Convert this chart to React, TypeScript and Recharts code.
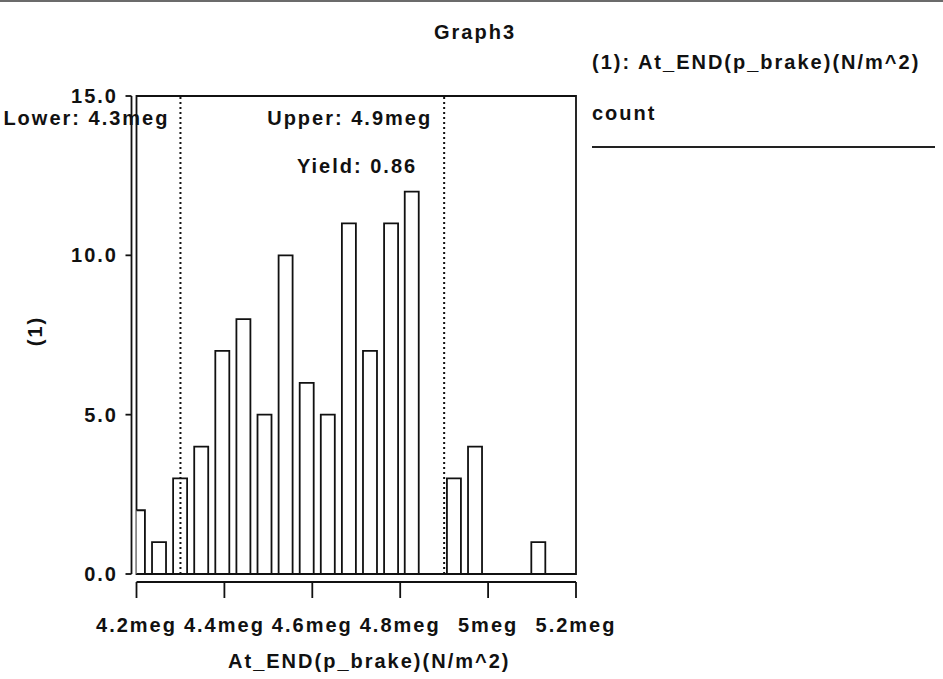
import React from 'react';
import { BarChart, Bar, XAxis, YAxis, ReferenceLine, ReferenceArea } from 'recharts';

// histogram bins of At_END(p_brake), in meg (N/m^2)
const binCenters = [
  4.204, 4.252, 4.3, 4.348, 4.396, 4.444, 4.492, 4.54, 4.588, 4.636,
  4.684, 4.732, 4.78, 4.827, 4.875, 4.923, 4.971, 5.019, 5.067, 5.115,
];
const counts = [2, 1, 3, 4, 7, 8, 5, 10, 6, 5, 11, 7, 11, 12, 0, 3, 4, 0, 0, 1];

const xTicks = [4.2, 4.4, 4.6, 4.8, 5.0, 5.2];
const xTickLabels = ['4.2meg', '4.4meg', '4.6meg', '4.8meg', '5meg', '5.2meg'];
const yTicks = [0, 5, 10, 15];

const lowerLimit = 4.3;
const upperLimit = 4.9;
const yieldValue = 0.86;

const data = binCenters.map((x, i) => ({ x, count: counts[i] }));

const INK = '#111';
const FONT = '"Liberation Sans", Arial, Helvetica, sans-serif';

const YTitle = (props: any) => {
  const vb = props.viewBox || {};
  const cx = vb.x + 18;
  const cy = vb.y + vb.height / 2 - 4;
  return (
    <text x={cx} y={cy} transform={`rotate(-90 ${cx} ${cy})`} textAnchor="middle" dominantBaseline="central" fill={INK}>
      (1)
    </text>
  );
};

const XTitle = (props: any) => {
  const vb = props.viewBox || {};
  return (
    <text x={vb.x + vb.width / 2 + 13} y={vb.y + 94} textAnchor="middle" fill={INK}>
      At_END(p_brake)(N/m^2)
    </text>
  );
};

const LowerLabel = (props: any) => {
  const vb = props.viewBox || {};
  return (
    <text x={vb.x - 11} y={vb.y + 29} textAnchor="end" fill={INK}>
      {`Lower: ${lowerLimit}meg`}
    </text>
  );
};

const UpperLabel = (props: any) => {
  const vb = props.viewBox || {};
  return (
    <g>
      <text x={vb.x - 12} y={vb.y + 29} textAnchor="end" fill={INK}>
        {`Upper: ${upperLimit}meg`}
      </text>
      <text x={vb.x - 27} y={vb.y + 77} textAnchor="end" fill={INK}>
        {`Yield: ${yieldValue}`}
      </text>
    </g>
  );
};

const App: React.FC = () => {
  return (
    <div
      style={{
        position: 'absolute',
        left: 0,
        top: 0,
        width: 943,
        height: 679,
        background: '#fff',
        fontFamily: FONT,
        fontWeight: 'bold',
        fontSize: 20,
        letterSpacing: '2px',
        color: INK,
        overflow: 'hidden',
      }}
    >
      <div style={{ position: 'absolute', left: 0, top: 0, width: 943, height: 2, background: '#6b6b6b' }} />
      <div style={{ position: 'absolute', left: 475, top: 22, lineHeight: '20px', transform: 'translateX(-50%)', whiteSpace: 'nowrap' }}>
        Graph3
      </div>
      <div style={{ position: 'absolute', left: 592, top: 52, lineHeight: '20px', whiteSpace: 'nowrap' }}>
        (1): At_END(p_brake)(N/m^2)
      </div>
      <div style={{ position: 'absolute', left: 592, top: 103, lineHeight: '20px', whiteSpace: 'nowrap' }}>count</div>
      <div style={{ position: 'absolute', left: 592, top: 146, width: 343, height: 2, background: '#222' }} />

      <BarChart width={943} height={679} data={data} margin={{ top: 96, right: 367, bottom: 25, left: 16.5 }}>
        <XAxis
          dataKey="x"
          type="number"
          domain={[4.2, 5.2]}
          allowDataOverflow
          ticks={xTicks}
          interval={0}
          height={80}
          tickSize={16}
          tickMargin={27.5}
          tickFormatter={(v: number, i: number) => xTickLabels[i]}
          tick={{ fill: INK }}
          axisLine={{ stroke: INK, strokeWidth: 1.8, transform: 'translate(0,8)', style: { transform: 'translate(0px,8px)' } }}
          tickLine={{ stroke: INK, strokeWidth: 1.8, transform: 'translate(0,8)', style: { transform: 'translate(0px,8px)' } }}
          label={XTitle}
        />
        <YAxis
          type="number"
          domain={[0, 15]}
          ticks={yTicks}
          interval={0}
          width={120}
          tickSize={6}
          tickMargin={12.5}
          tickFormatter={(v: number) => v.toFixed(1)}
          tick={{ fill: INK }}
          axisLine={{ stroke: INK, strokeWidth: 1.8, transform: 'translate(-5,0)', style: { transform: 'translate(-5px,0px)' } }}
          tickLine={{ stroke: INK, strokeWidth: 1.8, transform: 'translate(-5,0)', style: { transform: 'translate(-5px,0px)' } }}
          label={YTitle}
        />
        <Bar dataKey="count" fill="#fff" stroke={INK} strokeWidth={1.8} barSize={14} isAnimationActive={false} />
        <ReferenceArea x1={4.2} x2={5.2} y1={0} y2={15} fill="none" fillOpacity={0} stroke={INK} strokeWidth={1.8} ifOverflow="visible" />
        <ReferenceLine x={lowerLimit} stroke={INK} strokeWidth={2} strokeDasharray="2 3" label={LowerLabel} />
        <ReferenceLine x={upperLimit} stroke={INK} strokeWidth={2} strokeDasharray="2 3" label={UpperLabel} />
      </BarChart>
    </div>
  );
};

export default App;
